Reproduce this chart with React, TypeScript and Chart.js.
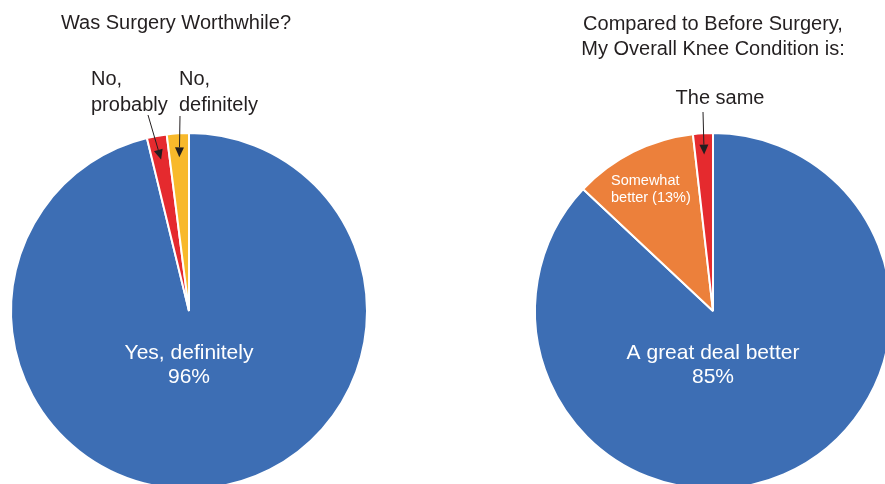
import React, { useEffect, useRef } from "react";
import { Chart, registerables } from "chart.js";

Chart.register(...registerables);

// ---- Data ----
const leftCategories = ["Yes, definitely", "No, probably", "No, definitely"];
const leftValues = [96.2, 1.8, 2.0];
const leftColors = ["#3D6EB4", "#E52A2E", "#F8B92B"];

const rightCategories = ["A great deal better", "Somewhat better", "The same"];
const rightValues = [87.0, 11.2, 1.8];
const rightColors = ["#3D6EB4", "#EC803B", "#E52A2E"];

const leftTitle = ["Was Surgery Worthwhile?"];
const rightTitle = ["Compared to Before Surgery,", "My Overall Knee Condition is:"];
const leftInside = ["Yes, definitely", "96%"];
const rightInside = ["A great deal better", "85%"];
const rightSmall = ["Somewhat", "better (13%)"];

const FONT = '"Liberation Sans", Arial, Helvetica, sans-serif';
const INK = "#231F20";

function arrow(ctx: CanvasRenderingContext2D, x1: number, y1: number, x2: number, y2: number) {
  const ang = Math.atan2(y2 - y1, x2 - x1);
  const len = 10;
  const w = 4.5;
  const bx = x2 - len * Math.cos(ang);
  const by = y2 - len * Math.sin(ang);
  ctx.save();
  ctx.strokeStyle = INK;
  ctx.fillStyle = INK;
  ctx.lineWidth = 1;
  ctx.beginPath();
  ctx.moveTo(x1, y1);
  ctx.lineTo(bx, by);
  ctx.stroke();
  ctx.beginPath();
  ctx.moveTo(x2, y2);
  ctx.lineTo(bx + w * Math.sin(ang), by - w * Math.cos(ang));
  ctx.lineTo(bx - w * Math.sin(ang), by + w * Math.cos(ang));
  ctx.closePath();
  ctx.fill();
  ctx.restore();
}

function tipOf(chart: any, index: number, ratio: number) {
  const arc: any = chart.getDatasetMeta(0).data[index];
  const mid = (arc.startAngle + arc.endAngle) / 2;
  const r = arc.outerRadius * ratio;
  return { x: arc.x + Math.cos(mid) * r, y: arc.y + Math.sin(mid) * r };
}

const leftPlugin = {
  id: "leftAnno",
  afterDraw(chart: any) {
    const ctx = chart.ctx as CanvasRenderingContext2D;
    const arc: any = chart.getDatasetMeta(0).data[0];
    ctx.save();
    ctx.font = `20px ${FONT}`;
    ctx.fillStyle = INK;
    ctx.textAlign = "center";
    ctx.textBaseline = "alphabetic";
    ctx.fillText(leftTitle[0], 176, 29);
    ctx.textAlign = "left";
    ctx.fillText("No,", 91, 85);
    ctx.fillText("probably", 91, 111);
    ctx.fillText("No,", 179, 85);
    ctx.fillText("definitely", 179, 111);
    ctx.font = `21px ${FONT}`;
    ctx.fillStyle = "#FFFFFF";
    ctx.textAlign = "center";
    ctx.fillText(leftInside[0], arc.x, arc.y + 48);
    ctx.fillText(leftInside[1], arc.x, arc.y + 72);
    ctx.restore();
    const t1 = tipOf(chart, 1, 0.865);
    const t2 = tipOf(chart, 2, 0.865);
    arrow(ctx, 148, 115, t1.x, t1.y);
    arrow(ctx, 180, 116, t2.x, t2.y);
  },
};

const rightPlugin = {
  id: "rightAnno",
  afterDraw(chart: any) {
    const ctx = chart.ctx as CanvasRenderingContext2D;
    const arc: any = chart.getDatasetMeta(0).data[0];
    ctx.save();
    ctx.font = `20px ${FONT}`;
    ctx.fillStyle = INK;
    ctx.textAlign = "center";
    ctx.textBaseline = "alphabetic";
    ctx.fillText(rightTitle[0], 713, 30);
    ctx.fillText(rightTitle[1], 713, 55);
    ctx.fillText("The same", 720, 104);
    ctx.font = `21px ${FONT}`;
    ctx.fillStyle = "#FFFFFF";
    ctx.fillText(rightInside[0], arc.x, arc.y + 48);
    ctx.fillText(rightInside[1], arc.x, arc.y + 72);
    ctx.font = `14.5px ${FONT}`;
    ctx.textAlign = "left";
    ctx.fillText(rightSmall[0], 611, 185);
    ctx.fillText(rightSmall[1], 611, 202);
    ctx.restore();
    const t = tipOf(chart, 2, 0.88);
    arrow(ctx, 703, 112, t.x, t.y);
  },
};

function makeConfig(labels: string[], values: number[], colors: string[], padLeft: number, padRight: number, plugin: any): any {
  return {
    type: "pie",
    data: {
      labels,
      datasets: [
        {
          data: values,
          backgroundColor: colors,
          borderColor: "#FFFFFF",
          borderWidth: 2,
          hoverOffset: 0,
          offset: 0,
          radius: 178,
        },
      ],
    },
    options: {
      responsive: false,
      animation: false,
      events: [],
      layout: { padding: { left: padLeft, right: padRight, top: 133, bottom: 11 } },
      plugins: { legend: { display: false }, tooltip: { enabled: false }, title: { display: false } },
    },
    plugins: [plugin],
  };
}

export default function App() {
  const leftRef = useRef<HTMLCanvasElement>(null);
  const rightRef = useRef<HTMLCanvasElement>(null);

  useEffect(() => {
    document.body.style.margin = "0";
    const c1 = new Chart(leftRef.current!, makeConfig(leftCategories, leftValues, leftColors, 11, 533, leftPlugin));
    const c2 = new Chart(rightRef.current!, makeConfig(rightCategories, rightValues, rightColors, 535, 9, rightPlugin));
    return () => {
      c1.destroy();
      c2.destroy();
    };
  }, []);

  const cs: React.CSSProperties = { position: "absolute", left: 0, top: 0, width: 900, height: 500 };
  return (
    <div style={{ position: "relative", width: 885, height: 484, overflow: "hidden", background: "#FFFFFF" }}>
      <canvas ref={leftRef} width={900} height={500} style={cs} />
      <canvas ref={rightRef} width={900} height={500} style={cs} />
    </div>
  );
}
